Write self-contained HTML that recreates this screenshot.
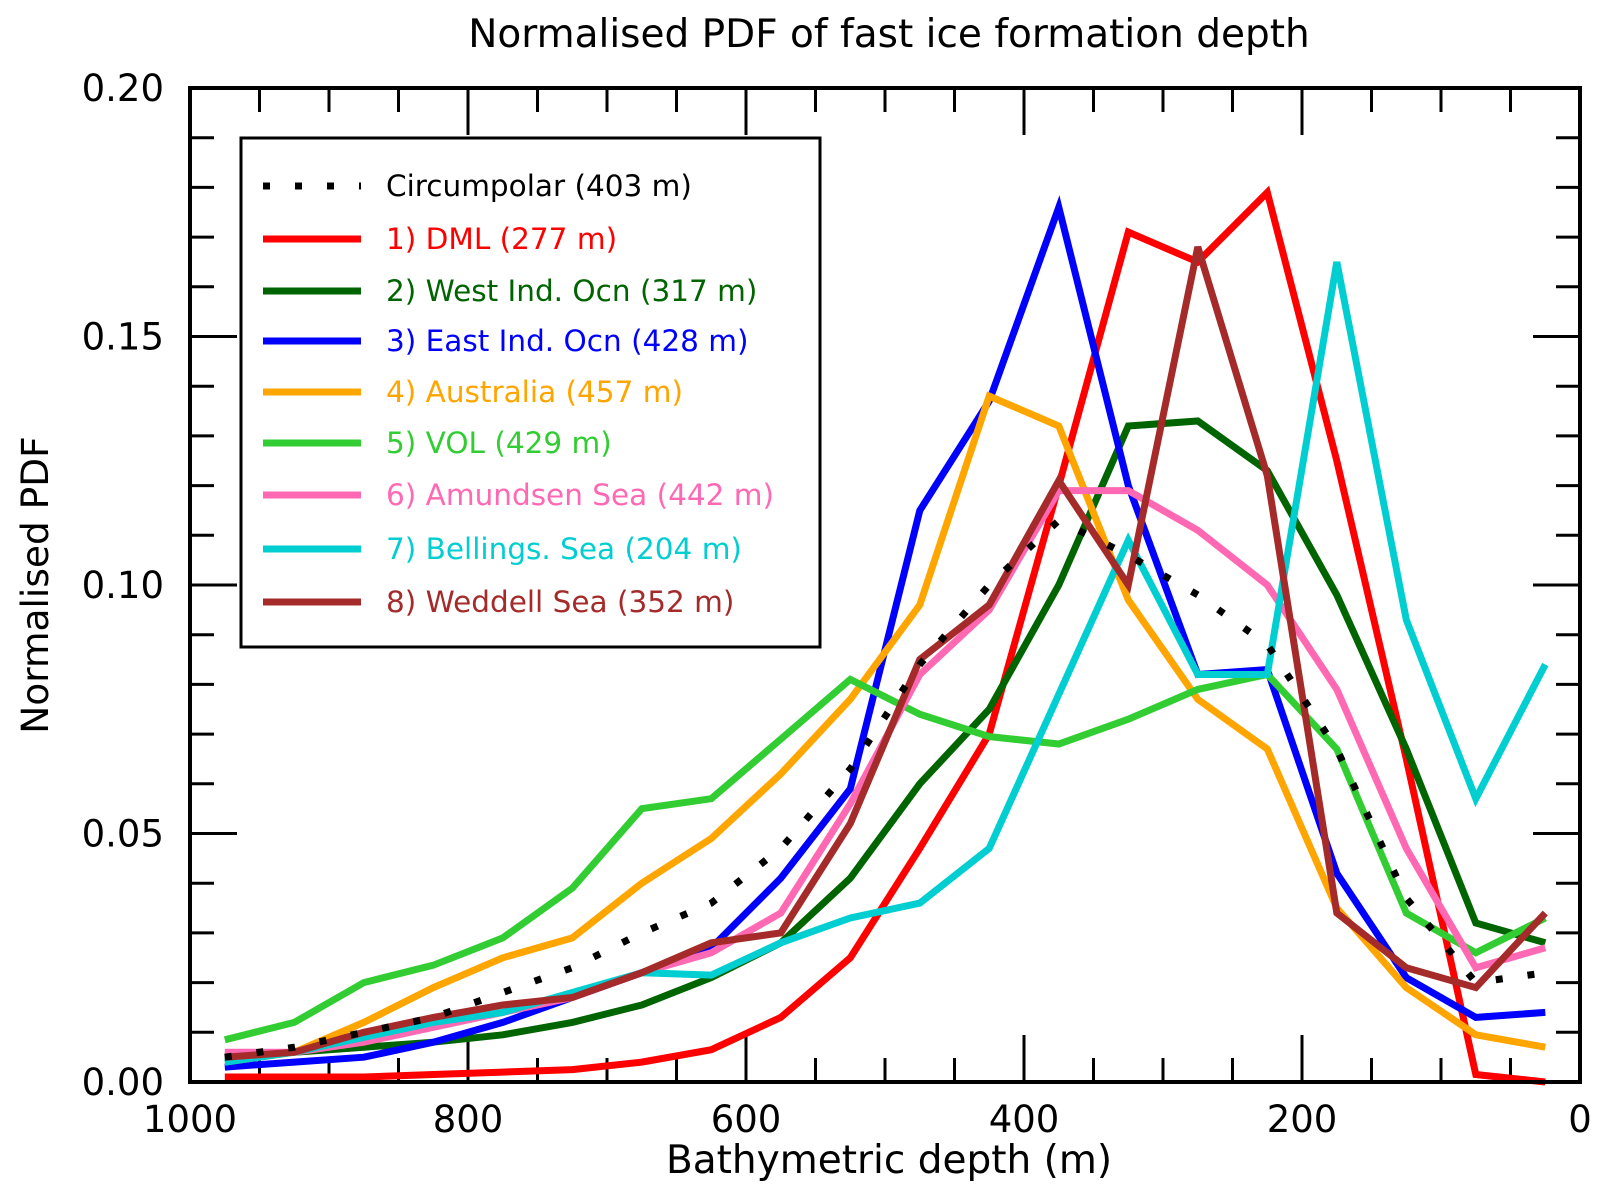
<!DOCTYPE html>
<html><head><meta charset="utf-8"><style>
body{margin:0;background:#fff}
svg{display:block;font-family:"DejaVu Sans","Liberation Sans",sans-serif}
</style></head><body>
<svg id="chart" width="1609" height="1193" viewBox="0 0 1609 1193">
<text x="889" y="47" font-size="39" text-anchor="middle">Normalised PDF of fast ice formation depth</text>
<text x="889" y="1173" font-size="39" text-anchor="middle">Bathymetric depth (m)</text>
<text transform="translate(48,585) rotate(-90)" font-size="37.5" text-anchor="middle">Normalised PDF</text>
<g id="ticks"></g>
<g id="series"></g>
<rect x="190" y="88" width="1390" height="994" fill="none" stroke="#000" stroke-width="4"/>
<g id="legend">
<rect x="241" y="138" width="579" height="509" fill="#fff" stroke="#000" stroke-width="3"/>
</g>
</svg>
<script>
const depths=[975,925,875,825,775,725,675,625,575,525,475,425,375,325,275,225,175,125,75,25];
const names=["Circumpolar (403 m)","1) DML (277 m)","2) West Ind. Ocn (317 m)","3) East Ind. Ocn (428 m)","4) Australia (457 m)","5) VOL (429 m)","6) Amundsen Sea (442 m)","7) Bellings. Sea (204 m)","8) Weddell Sea (352 m)"];
const colors=["#000","#ff0000","#006400","#0000ff","#ffa500","#32cd32","#ff69b4","#00ced1","#a52a2a"];
const circumpolar=[0.005,0.007,0.010,0.013,0.018,0.023,0.030,0.036,0.047,0.063,0.084,0.100,0.113,0.106,0.098,0.088,0.067,0.037,0.020,0.022];
const dml=[0.001,0.001,0.001,0.0015,0.002,0.0025,0.004,0.0065,0.013,0.025,0.047,0.070,0.120,0.171,0.165,0.179,0.125,0.065,0.0015,0];
const westInd=[0.005,0.006,0.007,0.008,0.0095,0.012,0.0155,0.021,0.028,0.041,0.060,0.075,0.100,0.132,0.133,0.123,0.098,0.067,0.032,0.028];
const eastInd=[0.003,0.004,0.005,0.008,0.012,0.017,0.022,0.027,0.041,0.059,0.115,0.137,0.176,0.120,0.082,0.083,0.042,0.021,0.013,0.014];
const australia=[0.004,0.006,0.012,0.019,0.025,0.029,0.040,0.049,0.062,0.077,0.096,0.138,0.132,0.097,0.077,0.067,0.035,0.019,0.0095,0.007];
const vol=[0.0085,0.012,0.020,0.0235,0.029,0.039,0.055,0.057,0.069,0.081,0.074,0.0695,0.068,0.073,0.079,0.082,0.067,0.034,0.026,0.033];
const amundsen=[0.006,0.006,0.008,0.011,0.014,0.017,0.022,0.026,0.034,0.056,0.082,0.095,0.119,0.119,0.111,0.100,0.079,0.047,0.023,0.027];
const bellings=[0.004,0.006,0.009,0.012,0.014,0.018,0.022,0.0215,0.028,0.033,0.036,0.047,0.078,0.109,0.082,0.082,0.165,0.093,0.057,0.084];
const weddell=[0.005,0.006,0.010,0.013,0.0155,0.017,0.022,0.028,0.030,0.052,0.085,0.096,0.121,0.100,0.168,0.122,0.034,0.023,0.019,0.034];
const xTickLabels=["1000","800","600","400","200","0"];
const yTickLabels=["0.00","0.05","0.10","0.15","0.20"];
const allSeries=[circumpolar,dml,westInd,eastInd,australia,vol,amundsen,bellings,weddell];
const seriesNames=["circumpolar","dml","west-ind-ocn","east-ind-ocn","australia","vol","amundsen-sea","bellings-sea","weddell-sea"];

const NS="http://www.w3.org/2000/svg";
const X0=190,X1=1580,Y0=1082,Y1=88;
const xs=d=>X0+(1000-d)/1000*(X1-X0);
const ys=v=>Y0-v/0.2*(Y0-Y1);
function mk(tag,attrs,parent){const e=document.createElementNS(NS,tag);for(const k in attrs)e.setAttribute(k,attrs[k]);parent.appendChild(e);return e;}
const tg=document.getElementById('ticks');
for(let d=0;d<=1000;d+=50){
 const maj=d%200===0,L=maj?47:24,x=xs(d);
 let t=mk('line',{x1:x,x2:x,y1:Y0,y2:Y0-L,stroke:'#000','stroke-width':3},tg);
 
 
 t=mk('line',{x1:x,x2:x,y1:Y1,y2:Y1+L,stroke:'#000','stroke-width':3},tg);
 
 
}
xTickLabels.forEach(s=>{const t=mk('text',{x:xs(+s),y:1132,'font-size':37,'text-anchor':'middle'},tg);t.textContent=s;
 
 });
for(let i=0;i<=20;i++){
 const v=i*0.01,maj=i%5===0,L=maj?47:24,y=ys(v);
 let t=mk('line',{x1:X0,x2:X0+L,y1:y,y2:y,stroke:'#000','stroke-width':3},tg);
 
 
 t=mk('line',{x1:X1,x2:X1-L,y1:y,y2:y,stroke:'#000','stroke-width':3},tg);
 
 
}
yTickLabels.forEach(s=>{const t=mk('text',{x:164,y:ys(+s)+13,'font-size':37,'text-anchor':'end'},tg);t.textContent=s;
 
 });
const sg=document.getElementById('series');
const order=[1,2,3,4,5,6,7,8,0];
order.forEach(i=>{
 const pts=allSeries[i].map((v,j)=>xs(depths[j]).toFixed(1)+','+ys(v).toFixed(1)).join(' ');
 const a={points:pts,fill:'none',stroke:colors[i],'stroke-width':7,'stroke-linejoin':'miter'};
 if(i===0){a['stroke-dasharray']='7 25';}
 const p=mk('polyline',a,sg);
 
 
});
const lg=document.getElementById('legend');
const rows=[186,239,291,341,392,443,495,549,602];
names.forEach((n,i)=>{
 const a={x1:263,x2:361,y1:rows[i],y2:rows[i],stroke:colors[i],'stroke-width':7};
 if(i===0)a['stroke-dasharray']='7 25';
 const l=mk('line',a,lg);
 
 
 const t=mk('text',{x:386,y:rows[i]+10,'font-size':29.5,fill:colors[i]},lg);t.textContent=n;
 
 
});
</script>
</body></html>
